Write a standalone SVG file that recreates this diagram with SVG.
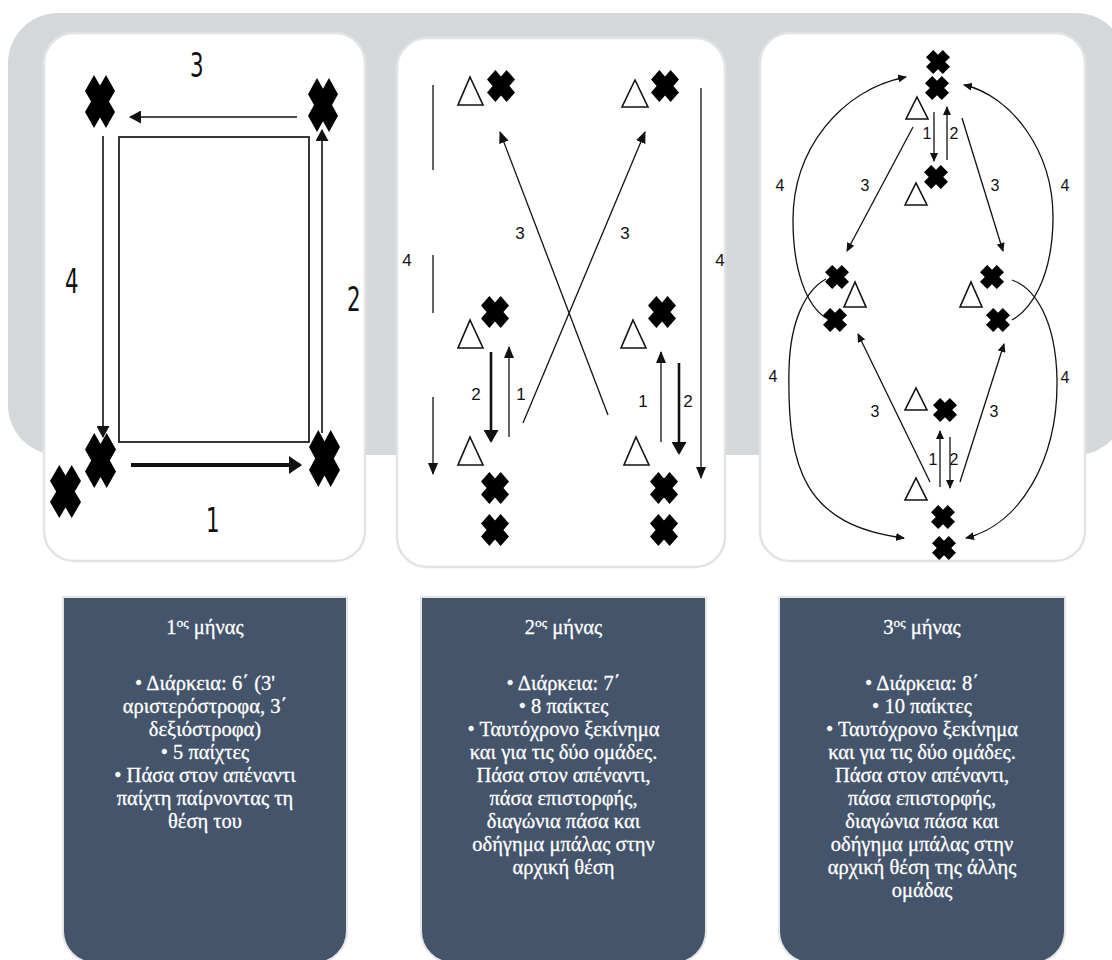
<svg xmlns="http://www.w3.org/2000/svg" width="1112" height="960" viewBox="0 0 1112 960">
<style>
.band{fill:#d5d8db}
.panel{fill:#ffffff;stroke:#e2e3e4;stroke-width:2.5}
.box{fill:#44546a;stroke:#e4e6e8;stroke-width:2}
.ln{fill:none;stroke:#111;stroke-width:1.3}
.lnm{fill:none;stroke:#111;stroke-width:1.6}
.lnt{fill:none;stroke:#111;stroke-width:2.6}
.lnb{fill:none;stroke:#111;stroke-width:4}
.tri{fill:#fff;stroke:#111;stroke-width:1.6;stroke-linejoin:miter}
.nar{font-family:"DejaVu Sans Condensed","DejaVu Sans",sans-serif;font-size:33px;fill:#111}
.lbl{font-family:"Liberation Sans",Arial,sans-serif;font-size:17px;fill:#111;text-anchor:middle}
.lbl3{font-family:"Liberation Sans",Arial,sans-serif;font-size:16px;fill:#111;text-anchor:middle}
.bt{font-family:"Liberation Serif","Times New Roman",serif;font-size:20.5px;fill:#ffffff;stroke:#ffffff;stroke-width:0.3;text-anchor:middle}
</style>
<defs>
<symbol id="xm" viewBox="-10 -10 20 20" preserveAspectRatio="none">
<polygon points="-10,-4 -4,-10 0,-6 4,-10 10,-4 6,0 10,4 4,10 0,6 -4,10 -10,4 -6,0" fill="#000"/>
</symbol>
<marker id="a1" markerUnits="userSpaceOnUse" markerWidth="9" markerHeight="8" refX="8" refY="4" orient="auto"><path d="M0,0 L9,4 L0,8 z" fill="#111"/></marker>
<marker id="a2" markerUnits="userSpaceOnUse" markerWidth="12" markerHeight="10" refX="11" refY="5" orient="auto"><path d="M0,0 L12,5 L0,10 z" fill="#111"/></marker>
<marker id="a3" markerUnits="userSpaceOnUse" markerWidth="13" markerHeight="15" refX="11" refY="7.5" orient="auto"><path d="M0,0 L13,7.5 L0,15 z" fill="#111"/></marker>
<marker id="a4" markerUnits="userSpaceOnUse" markerWidth="12" markerHeight="13" refX="11" refY="6.5" orient="auto"><path d="M0,0 L12,6.5 L0,13 z" fill="#111"/></marker>
<marker id="a5" markerUnits="userSpaceOnUse" markerWidth="13" markerHeight="18" refX="11" refY="9" orient="auto"><path d="M0,0 L13,9 L0,18 z" fill="#111"/></marker>
</defs>

<g id="background">
<rect class="band" x="8" y="13" width="1118" height="442" rx="50"/>
<rect class="panel" x="44" y="33" width="321" height="528" rx="30"/>
<rect class="panel" x="397" y="38" width="328" height="529" rx="30"/>
<rect class="panel" x="760" y="33" width="325" height="528" rx="30"/>
</g>

<g id="connectors">
<rect x="119" y="137" width="190" height="305" fill="none" stroke="#222" stroke-width="1.8"/>
<line class="lnm" x1="297" y1="117" x2="130" y2="117" marker-end="url(#a4)"/>
<line class="lnm" x1="322" y1="433" x2="322" y2="130" marker-end="url(#a4)"/>
<line class="lnm" x1="103" y1="136" x2="103" y2="437" marker-end="url(#a4)"/>
<line class="lnb" x1="131" y1="465" x2="300" y2="465" marker-end="url(#a5)"/>
<line class="ln" x1="433" y1="85" x2="433" y2="474" stroke-dasharray="85 85 58 84 300" marker-end="url(#a2)"/>
<line class="ln" x1="701" y1="88" x2="701" y2="478" marker-end="url(#a2)"/>
<line class="ln" x1="608" y1="415" x2="500" y2="132" marker-end="url(#a2)"/>
<line class="ln" x1="523" y1="423" x2="645" y2="132" marker-end="url(#a2)"/>
<line class="lnt" x1="491" y1="352" x2="491" y2="441" marker-end="url(#a3)"/>
<line class="ln" x1="509" y1="437" x2="509" y2="347" marker-end="url(#a2)"/>
<line class="ln" x1="661" y1="442" x2="661" y2="352" marker-end="url(#a2)"/>
<line class="lnt" x1="679" y1="363" x2="679" y2="453" marker-end="url(#a3)"/>
<line class="ln" x1="934" y1="112" x2="934" y2="161" marker-end="url(#a1)"/>
<line class="ln" x1="947" y1="160" x2="947" y2="107" marker-end="url(#a1)"/>
<line class="ln" x1="913" y1="127" x2="847" y2="251" marker-end="url(#a1)"/>
<line class="ln" x1="962" y1="118" x2="1003" y2="251" marker-end="url(#a1)"/>
<line class="ln" x1="930" y1="482" x2="858" y2="334" marker-end="url(#a1)"/>
<line class="ln" x1="960" y1="482" x2="1004" y2="344" marker-end="url(#a1)"/>
<line class="ln" x1="940" y1="487" x2="940" y2="431" marker-end="url(#a1)"/>
<line class="ln" x1="950" y1="437" x2="950" y2="488" marker-end="url(#a1)"/>
<path class="ln" d="M826,318 C806,305 793,270 793,220 C793,150 840,90 906,77" marker-end="url(#a1)"/>
<path class="ln" d="M826,279 C806,290 790,320 789,370 C787,470 805,525 904,538" marker-end="url(#a1)"/>
<path class="ln" d="M1012,320 C1030,310 1052,280 1053,220 C1054,150 1010,95 964,85" marker-end="url(#a1)"/>
<path class="ln" d="M1012,280 C1035,288 1056,320 1057,380 C1058,460 1020,525 966,538" marker-end="url(#a1)"/>
</g>

<g id="panel1-nodes">
<use href="#xm" x="85" y="75" width="30" height="53"/>
<use href="#xm" x="308" y="78" width="30" height="54"/>
<use href="#xm" x="85" y="433" width="31" height="55"/>
<use href="#xm" x="50" y="465" width="31" height="53"/>
<use href="#xm" x="309" y="430" width="31" height="57"/>
<text class="nar" transform="translate(190,77) scale(0.72,1)">3</text>
<text class="nar" transform="translate(65,293) scale(0.72,1)">4</text>
<text class="nar" transform="translate(347,311) scale(0.72,1)">2</text>
<text class="nar" transform="translate(206,532) scale(0.72,1)">1</text>
</g>

<g id="panel2-nodes">
<use href="#xm" x="487" y="70" width="28" height="32"/>
<use href="#xm" x="651" y="70" width="28" height="32"/>
<use href="#xm" x="481" y="296" width="28" height="32"/>
<use href="#xm" x="648" y="296" width="28" height="32"/>
<use href="#xm" x="481" y="472" width="28" height="32"/>
<use href="#xm" x="481" y="514" width="28" height="32"/>
<use href="#xm" x="650" y="472" width="28" height="32"/>
<use href="#xm" x="650" y="514" width="28" height="32"/>
<polygon class="tri" points="470,77 483,105 458,105"/>
<polygon class="tri" points="635,80 648,107 622,107"/>
<polygon class="tri" points="470,320 483,348 458,348"/>
<polygon class="tri" points="470,437 483,465 458,465"/>
<polygon class="tri" points="633,320 646,348 621,348"/>
<polygon class="tri" points="636,437 649,465 624,465"/>
<text class="lbl" x="407" y="266">4</text>
<text class="lbl" x="720" y="266">4</text>
<text class="lbl" x="520" y="239">3</text>
<text class="lbl" x="625" y="239">3</text>
<text class="lbl" x="476" y="400">2</text>
<text class="lbl" x="521" y="400">1</text>
<text class="lbl" x="643" y="407">1</text>
<text class="lbl" x="688" y="407">2</text>
</g>

<g id="panel3-nodes">
<use href="#xm" x="926" y="50" width="24" height="24"/>
<use href="#xm" x="925" y="76" width="24" height="24"/>
<use href="#xm" x="924" y="165" width="24" height="24"/>
<use href="#xm" x="825" y="265" width="24" height="24"/>
<use href="#xm" x="823" y="308" width="24" height="24"/>
<use href="#xm" x="980" y="265" width="24" height="24"/>
<use href="#xm" x="986" y="308" width="24" height="24"/>
<use href="#xm" x="933" y="398" width="24" height="24"/>
<use href="#xm" x="931" y="505" width="24" height="24"/>
<use href="#xm" x="932" y="536" width="24" height="24"/>
<polygon class="tri" points="917,97 928,119 906,119"/>
<polygon class="tri" points="916,183 927,205 905,205"/>
<polygon class="tri" points="855,282 866,307 844,307"/>
<polygon class="tri" points="971,282 982,307 960,307"/>
<polygon class="tri" points="916,388 927,410 905,410"/>
<polygon class="tri" points="916,478 927,500 905,500"/>
<text class="lbl3" x="927" y="139">1</text>
<text class="lbl3" x="954" y="139">2</text>
<text class="lbl3" x="780" y="191">4</text>
<text class="lbl3" x="865" y="191">3</text>
<text class="lbl3" x="995" y="191">3</text>
<text class="lbl3" x="1065" y="191">4</text>
<text class="lbl3" x="773" y="382">4</text>
<text class="lbl3" x="1065" y="383">4</text>
<text class="lbl3" x="875" y="417">3</text>
<text class="lbl3" x="994" y="417">3</text>
<text class="lbl3" x="933" y="465">1</text>
<text class="lbl3" x="954" y="465">2</text>
</g>

<g id="box1">
<path class="box" d="M63,597 H347 V931 A32,32 0 0 1 315,963 H95 A32,32 0 0 1 63,931 Z"/>
<text class="bt" x="205" y="634">1<tspan font-size="13.5" dy="-7">ος</tspan><tspan dy="7"> μήνας</tspan></text>
<text class="bt" x="205" y="690">• Διάρκεια: 6΄ (3'</text>
<text class="bt" x="205" y="713">αριστερόστροφα, 3΄</text>
<text class="bt" x="205" y="736">δεξιόστροφα)</text>
<text class="bt" x="205" y="759">• 5 παίχτες</text>
<text class="bt" x="205" y="782">• Πάσα στον απέναντι</text>
<text class="bt" x="205" y="805">παίχτη παίρνοντας τη</text>
<text class="bt" x="205" y="828">θέση του</text>
</g>

<g id="box2">
<path class="box" d="M421,597 H706 V931 A32,32 0 0 1 674,963 H453 A32,32 0 0 1 421,931 Z"/>
<text class="bt" x="563.5" y="634">2<tspan font-size="13.5" dy="-7">ος</tspan><tspan dy="7"> μήνας</tspan></text>
<text class="bt" x="563.5" y="690">• Διάρκεια: 7΄</text>
<text class="bt" x="563.5" y="713">• 8 παίκτες</text>
<text class="bt" x="563.5" y="736">• Ταυτόχρονο ξεκίνημα</text>
<text class="bt" x="563.5" y="759">και για τις δύο ομάδες.</text>
<text class="bt" x="563.5" y="782">Πάσα στον απέναντι,</text>
<text class="bt" x="563.5" y="805">πάσα επιστορφής,</text>
<text class="bt" x="563.5" y="828">διαγώνια πάσα και</text>
<text class="bt" x="563.5" y="851">οδήγημα μπάλας στην</text>
<text class="bt" x="563.5" y="874">αρχική θέση</text>
</g>

<g id="box3">
<path class="box" d="M779,597 H1065 V931 A32,32 0 0 1 1033,963 H811 A32,32 0 0 1 779,931 Z"/>
<text class="bt" x="922" y="634">3<tspan font-size="13.5" dy="-7">ος</tspan><tspan dy="7"> μήνας</tspan></text>
<text class="bt" x="922" y="690">• Διάρκεια: 8΄</text>
<text class="bt" x="922" y="713">• 10 παίκτες</text>
<text class="bt" x="922" y="736">• Ταυτόχρονο ξεκίνημα</text>
<text class="bt" x="922" y="759">και για τις δύο ομάδες.</text>
<text class="bt" x="922" y="782">Πάσα στον απέναντι,</text>
<text class="bt" x="922" y="805">πάσα επιστορφής,</text>
<text class="bt" x="922" y="828">διαγώνια πάσα και</text>
<text class="bt" x="922" y="851">οδήγημα μπάλας στην</text>
<text class="bt" x="922" y="874">αρχική θέση της άλλης</text>
<text class="bt" x="922" y="897">ομάδας</text>
</g>
</svg>
